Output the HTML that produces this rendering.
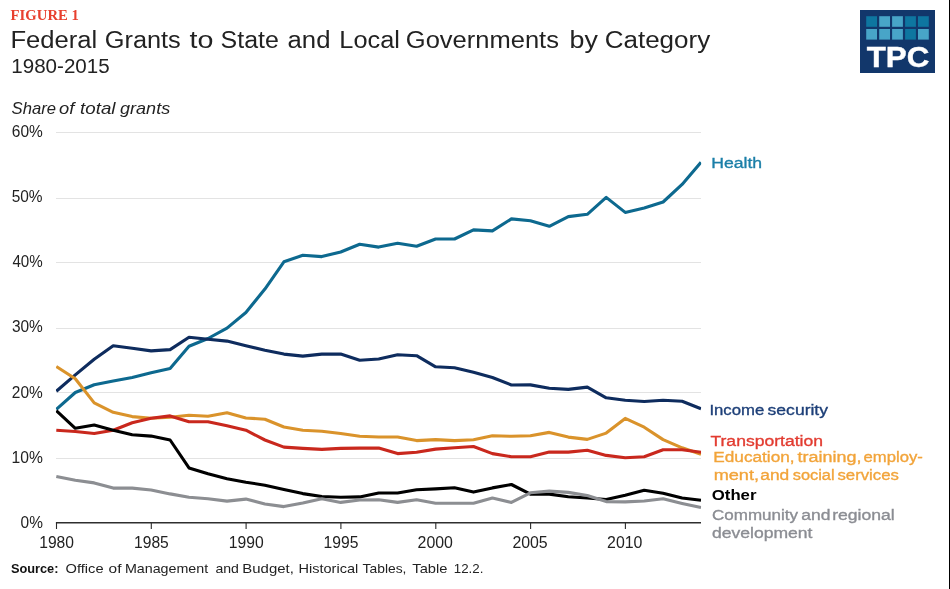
<!DOCTYPE html>
<html><head><meta charset="utf-8"><title>Figure 1</title>
<style>
html,body{margin:0;padding:0;background:#fff;}
body{width:950px;height:589px;overflow:hidden;font-family:"Liberation Sans",sans-serif;}
svg{display:block;will-change:transform;}
text{font-family:"Liberation Sans",sans-serif;}
.serif{font-family:"Liberation Serif",serif;}
</style></head><body>
<svg width="950" height="589" viewBox="0 0 950 589">
<rect x="0" y="0" width="950" height="589" fill="#ffffff"/>
<rect x="949" y="0" width="1" height="589" fill="#000"/>
<rect x="860" y="10" width="75" height="63" fill="#12376b"/>
<rect x="866.2" y="16.2" width="10.8" height="10.6" fill="#0e76a0"/>
<rect x="879.2" y="16.2" width="10.8" height="10.6" fill="#48a5c8"/>
<rect x="892.1" y="16.2" width="10.8" height="10.6" fill="#48a5c8"/>
<rect x="905.1" y="16.2" width="10.8" height="10.6" fill="#0e76a0"/>
<rect x="918.0" y="16.2" width="10.8" height="10.6" fill="#0e76a0"/>
<rect x="866.2" y="29.0" width="10.8" height="10.6" fill="#48a5c8"/>
<rect x="879.2" y="29.0" width="10.8" height="10.6" fill="#48a5c8"/>
<rect x="892.1" y="29.0" width="10.8" height="10.6" fill="#48a5c8"/>
<rect x="905.1" y="29.0" width="10.8" height="10.6" fill="#0e76a0"/>
<rect x="918.0" y="29.0" width="10.8" height="10.6" fill="#48a5c8"/>
<line x1="56" x2="701" y1="132.5" y2="132.5" stroke="#e3e3e3" stroke-width="1"/>
<line x1="56" x2="701" y1="198.5" y2="198.5" stroke="#e3e3e3" stroke-width="1"/>
<line x1="56" x2="701" y1="262.5" y2="262.5" stroke="#e3e3e3" stroke-width="1"/>
<line x1="56" x2="701" y1="328.5" y2="328.5" stroke="#e3e3e3" stroke-width="1"/>
<line x1="56" x2="701" y1="392.5" y2="392.5" stroke="#e3e3e3" stroke-width="1"/>
<line x1="56" x2="701" y1="458.5" y2="458.5" stroke="#e3e3e3" stroke-width="1"/>
<clipPath id="plot"><rect x="55.9" y="120" width="645.3" height="410"/></clipPath>
<g clip-path="url(#plot)">
<polyline points="56.3,409.4 75.3,392.5 94.2,384.7 113.2,381.1 132.2,377.5 151.1,372.7 170.1,368.4 189.0,346.3 208.0,338.5 227.0,328.1 245.9,312.5 264.9,289.1 283.9,261.8 302.8,255.3 321.8,256.6 340.7,252.0 359.7,244.2 378.7,247.1 397.6,243.2 416.6,246.2 435.6,239.0 454.5,239.0 473.5,229.9 492.4,230.9 511.4,218.9 530.4,220.8 549.3,226.3 568.3,216.6 587.3,214.3 606.2,197.4 625.2,212.4 644.2,208.1 663.1,202.0 682.1,184.4 701.0,162.3" fill="none" stroke="#0d698f" stroke-width="3.1" stroke-linejoin="round" stroke-linecap="butt"/>
<polyline points="56.3,391.2 75.3,374.9 94.2,359.3 113.2,345.7 132.2,348.3 151.1,350.9 170.1,349.6 189.0,337.2 208.0,339.2 227.0,341.1 245.9,345.7 264.9,350.2 283.9,354.1 302.8,356.1 321.8,354.1 340.7,354.1 359.7,360.2 378.7,359.0 397.6,354.8 416.6,355.7 435.6,366.8 454.5,367.8 473.5,372.3 492.4,377.5 511.4,385.0 530.4,384.9 549.3,388.3 568.3,389.4 587.3,387.1 606.2,397.8 625.2,400.3 644.2,401.5 663.1,400.3 682.1,401.2 701.0,408.7" fill="none" stroke="#0e2c5e" stroke-width="3.1" stroke-linejoin="round" stroke-linecap="butt"/>
<polyline points="56.3,366.5 75.3,378.8 94.2,402.9 113.2,412.3 132.2,416.6 151.1,418.2 170.1,417.2 189.0,415.3 208.0,416.2 227.0,412.8 245.9,418.0 264.9,419.2 283.9,427.0 302.8,430.2 321.8,431.2 340.7,433.5 359.7,436.3 378.7,437.0 397.6,437.0 416.6,440.6 435.6,439.6 454.5,440.6 473.5,439.7 492.4,435.8 511.4,436.3 530.4,435.7 549.3,432.4 568.3,437.1 587.3,439.4 606.2,433.1 625.2,418.4 644.2,427.2 663.1,439.6 682.1,447.8 701.0,454.3" fill="none" stroke="#da932b" stroke-width="3.1" stroke-linejoin="round" stroke-linecap="butt"/>
<polyline points="56.3,430.2 75.3,431.5 94.2,433.5 113.2,430.2 132.2,422.7 151.1,418.2 170.1,415.9 189.0,421.8 208.0,421.8 227.0,425.7 245.9,430.2 264.9,440.0 283.9,447.1 302.8,448.4 321.8,449.4 340.7,448.4 359.7,448.1 378.7,448.0 397.6,453.6 416.6,452.3 435.6,449.1 454.5,447.8 473.5,446.5 492.4,453.6 511.4,456.7 530.4,456.7 549.3,452.1 568.3,452.1 587.3,450.2 606.2,455.4 625.2,457.7 644.2,456.7 663.1,449.7 682.1,449.7 701.0,452.3" fill="none" stroke="#c9281d" stroke-width="3.1" stroke-linejoin="round" stroke-linecap="butt"/>
<polyline points="56.3,410.7 75.3,428.3 94.2,425.0 113.2,430.2 132.2,434.8 151.1,436.1 170.1,440.0 189.0,467.9 208.0,473.8 227.0,478.7 245.9,482.2 264.9,485.2 283.9,489.4 302.8,493.6 321.8,496.5 340.7,497.2 359.7,496.9 378.7,493.0 397.6,493.0 416.6,489.8 435.6,488.9 454.5,487.8 473.5,492.1 492.4,487.9 511.4,484.5 530.4,494.1 549.3,494.1 568.3,496.7 587.3,498.0 606.2,499.5 625.2,495.2 644.2,490.2 663.1,493.3 682.1,498.0 701.0,500.2" fill="none" stroke="#000000" stroke-width="3.1" stroke-linejoin="round" stroke-linecap="butt"/>
<polyline points="56.3,476.4 75.3,480.3 94.2,482.9 113.2,488.1 132.2,488.1 151.1,490.0 170.1,493.9 189.0,497.2 208.0,498.7 227.0,501.1 245.9,499.1 264.9,504.0 283.9,506.6 302.8,503.0 321.8,498.8 340.7,502.4 359.7,500.0 378.7,499.8 397.6,502.4 416.6,499.8 435.6,503.2 454.5,503.2 473.5,503.2 492.4,498.0 511.4,502.4 530.4,492.8 549.3,491.1 568.3,492.4 587.3,495.5 606.2,501.6 625.2,501.9 644.2,501.0 663.1,498.8 682.1,503.4 701.0,507.6" fill="none" stroke="#8c8e92" stroke-width="3.1" stroke-linejoin="round" stroke-linecap="butt"/>
</g>
<line x1="55.9" x2="701" y1="522.75" y2="522.75" stroke="#2e2e2e" stroke-width="1.4"/>
<line x1="56.5" x2="56.5" y1="522.8" y2="529" stroke="#2a2a2a" stroke-width="1.1"/>
<line x1="151.3" x2="151.3" y1="522.8" y2="529" stroke="#2a2a2a" stroke-width="1.1"/>
<line x1="246.1" x2="246.1" y1="522.8" y2="529" stroke="#2a2a2a" stroke-width="1.1"/>
<line x1="340.9" x2="340.9" y1="522.8" y2="529" stroke="#2a2a2a" stroke-width="1.1"/>
<line x1="435.8" x2="435.8" y1="522.8" y2="529" stroke="#2a2a2a" stroke-width="1.1"/>
<line x1="530.6" x2="530.6" y1="522.8" y2="529" stroke="#2a2a2a" stroke-width="1.1"/>
<line x1="625.4" x2="625.4" y1="522.8" y2="529" stroke="#2a2a2a" stroke-width="1.1"/>
<text class="serif" x="10.64" y="20.4" font-size="14.5" font-weight="700" fill="#e8402f" textLength="68.22" lengthAdjust="spacingAndGlyphs">FIGURE 1</text>
<text x="10.40" y="47.8" font-size="24.7" font-weight="400" fill="#222222" textLength="86.86" lengthAdjust="spacingAndGlyphs">Federal</text>
<text x="104.76" y="47.8" font-size="24.7" font-weight="400" fill="#222222" textLength="76.05" lengthAdjust="spacingAndGlyphs">Grants</text>
<text x="189.50" y="47.8" font-size="24.7" font-weight="400" fill="#222222" textLength="23.89" lengthAdjust="spacingAndGlyphs">to</text>
<text x="220.55" y="47.8" font-size="24.7" font-weight="400" fill="#222222" textLength="58.30" lengthAdjust="spacingAndGlyphs">State</text>
<text x="287.57" y="47.8" font-size="24.7" font-weight="400" fill="#222222" textLength="42.90" lengthAdjust="spacingAndGlyphs">and</text>
<text x="339.35" y="47.8" font-size="24.7" font-weight="400" fill="#222222" textLength="60.57" lengthAdjust="spacingAndGlyphs">Local</text>
<text x="405.87" y="47.8" font-size="24.7" font-weight="400" fill="#222222" textLength="153.06" lengthAdjust="spacingAndGlyphs">Governments</text>
<text x="569.63" y="47.8" font-size="24.7" font-weight="400" fill="#222222" textLength="28.29" lengthAdjust="spacingAndGlyphs">by</text>
<text x="604.74" y="47.8" font-size="24.7" font-weight="400" fill="#222222" textLength="105.44" lengthAdjust="spacingAndGlyphs">Category</text>
<text x="11.30" y="72.6" font-size="20" font-weight="400" fill="#222222" textLength="98.33" lengthAdjust="spacingAndGlyphs">1980-2015</text>
<text x="11.55" y="114.1" font-size="17" font-weight="400" font-style="italic" fill="#222" textLength="44.41" lengthAdjust="spacingAndGlyphs">Share</text>
<text x="58.95" y="114.1" font-size="17" font-weight="400" font-style="italic" fill="#222" textLength="15.30" lengthAdjust="spacingAndGlyphs">of</text>
<text x="80.07" y="114.1" font-size="17" font-weight="400" font-style="italic" fill="#222" textLength="35.40" lengthAdjust="spacingAndGlyphs">total</text>
<text x="120.05" y="114.1" font-size="17" font-weight="400" font-style="italic" fill="#222" textLength="50.11" lengthAdjust="spacingAndGlyphs">grants</text>
<text x="20.58" y="527.8" font-size="16" font-weight="400" fill="#222" textLength="22.28" lengthAdjust="spacingAndGlyphs">0%</text>
<text x="11.52" y="462.7" font-size="16" font-weight="400" fill="#222" textLength="31.31" lengthAdjust="spacingAndGlyphs">10%</text>
<text x="11.80" y="397.6" font-size="16" font-weight="400" fill="#222" textLength="30.94" lengthAdjust="spacingAndGlyphs">20%</text>
<text x="11.88" y="332.4" font-size="16" font-weight="400" fill="#222" textLength="30.92" lengthAdjust="spacingAndGlyphs">30%</text>
<text x="12.41" y="267.3" font-size="16" font-weight="400" fill="#222" textLength="30.30" lengthAdjust="spacingAndGlyphs">40%</text>
<text x="11.66" y="202.2" font-size="16" font-weight="400" fill="#222" textLength="30.92" lengthAdjust="spacingAndGlyphs">50%</text>
<text x="11.87" y="137.1" font-size="16" font-weight="400" fill="#222" textLength="31.00" lengthAdjust="spacingAndGlyphs">60%</text>
<text x="39.25" y="547.6" font-size="16" font-weight="400" fill="#222" textLength="34.71" lengthAdjust="spacingAndGlyphs">1980</text>
<text x="134.00" y="547.6" font-size="16" font-weight="400" fill="#222" textLength="34.77" lengthAdjust="spacingAndGlyphs">1985</text>
<text x="228.84" y="547.6" font-size="16" font-weight="400" fill="#222" textLength="34.85" lengthAdjust="spacingAndGlyphs">1990</text>
<text x="323.55" y="547.6" font-size="16" font-weight="400" fill="#222" textLength="34.84" lengthAdjust="spacingAndGlyphs">1995</text>
<text x="417.59" y="547.6" font-size="16" font-weight="400" fill="#222" textLength="35.33" lengthAdjust="spacingAndGlyphs">2000</text>
<text x="512.38" y="547.6" font-size="16" font-weight="400" fill="#222" textLength="35.33" lengthAdjust="spacingAndGlyphs">2005</text>
<text x="607.12" y="547.6" font-size="16" font-weight="400" fill="#222" textLength="35.33" lengthAdjust="spacingAndGlyphs">2010</text>
<text x="711.25" y="167.6" font-size="15.5" font-weight="400" fill="#1b7fa8" stroke="#1b7fa8" stroke-width="0.35" textLength="50.89" lengthAdjust="spacingAndGlyphs">Health</text>
<text x="709.45" y="414.6" font-size="15.5" font-weight="400" fill="#1d3f78" stroke="#1d3f78" stroke-width="0.35" textLength="54.80" lengthAdjust="spacingAndGlyphs">Income</text>
<text x="767.60" y="414.6" font-size="15.5" font-weight="400" fill="#1d3f78" stroke="#1d3f78" stroke-width="0.35" textLength="60.41" lengthAdjust="spacingAndGlyphs">security</text>
<text x="710.44" y="445.5" font-size="15.5" font-weight="400" fill="#e23b30" stroke="#e23b30" stroke-width="0.35" textLength="112.61" lengthAdjust="spacingAndGlyphs">Transportation</text>
<text x="713.29" y="461.9" font-size="15.5" font-weight="400" fill="#f2a43a" stroke="#f2a43a" stroke-width="0.35" textLength="81.33" lengthAdjust="spacingAndGlyphs">Education,</text>
<text x="797.46" y="461.9" font-size="15.5" font-weight="400" fill="#f2a43a" stroke="#f2a43a" stroke-width="0.35" textLength="63.94" lengthAdjust="spacingAndGlyphs">training,</text>
<text x="863.59" y="461.9" font-size="15.5" font-weight="400" fill="#f2a43a" stroke="#f2a43a" stroke-width="0.35" textLength="59.27" lengthAdjust="spacingAndGlyphs">employ-</text>
<text x="713.68" y="480" font-size="15.5" font-weight="400" fill="#f2a43a" stroke="#f2a43a" stroke-width="0.35" textLength="45.33" lengthAdjust="spacingAndGlyphs">ment,</text>
<text x="760.29" y="480" font-size="15.5" font-weight="400" fill="#f2a43a" stroke="#f2a43a" stroke-width="0.35" textLength="28.97" lengthAdjust="spacingAndGlyphs">and</text>
<text x="792.70" y="480" font-size="15.5" font-weight="400" fill="#f2a43a" stroke="#f2a43a" stroke-width="0.35" textLength="41.94" lengthAdjust="spacingAndGlyphs">social</text>
<text x="837.45" y="480" font-size="15.5" font-weight="400" fill="#f2a43a" stroke="#f2a43a" stroke-width="0.35" textLength="61.49" lengthAdjust="spacingAndGlyphs">services</text>
<text x="711.75" y="500.3" font-size="15.5" font-weight="700" fill="#000" textLength="44.73" lengthAdjust="spacingAndGlyphs">Other</text>
<text x="712.05" y="519.6" font-size="15.5" font-weight="400" fill="#8b8d93" stroke="#8b8d93" stroke-width="0.35" textLength="85.97" lengthAdjust="spacingAndGlyphs">Community</text>
<text x="801.21" y="519.6" font-size="15.5" font-weight="400" fill="#8b8d93" stroke="#8b8d93" stroke-width="0.35" textLength="29.24" lengthAdjust="spacingAndGlyphs">and</text>
<text x="832.20" y="519.6" font-size="15.5" font-weight="400" fill="#8b8d93" stroke="#8b8d93" stroke-width="0.35" textLength="62.57" lengthAdjust="spacingAndGlyphs">regional</text>
<text x="711.99" y="537.8" font-size="15.5" font-weight="400" fill="#8b8d93" stroke="#8b8d93" stroke-width="0.35" textLength="100.44" lengthAdjust="spacingAndGlyphs">development</text>
<text x="10.91" y="572.5" font-size="13" font-weight="700" fill="#111" textLength="47.54" lengthAdjust="spacingAndGlyphs">Source:</text>
<text x="65.58" y="572.5" font-size="13.2" font-weight="400" fill="#222" textLength="37.95" lengthAdjust="spacingAndGlyphs">Office</text>
<text x="108.63" y="572.5" font-size="13.2" font-weight="400" fill="#222" textLength="12.87" lengthAdjust="spacingAndGlyphs">of</text>
<text x="124.92" y="572.5" font-size="13.2" font-weight="400" fill="#222" textLength="83.29" lengthAdjust="spacingAndGlyphs">Management</text>
<text x="215.46" y="572.5" font-size="13.2" font-weight="400" fill="#222" textLength="23.49" lengthAdjust="spacingAndGlyphs">and</text>
<text x="242.38" y="572.5" font-size="13.2" font-weight="400" fill="#222" textLength="51.43" lengthAdjust="spacingAndGlyphs">Budget,</text>
<text x="298.57" y="572.5" font-size="13.2" font-weight="400" fill="#222" textLength="59.63" lengthAdjust="spacingAndGlyphs">Historical</text>
<text x="362.62" y="572.5" font-size="13.2" font-weight="400" fill="#222" textLength="43.83" lengthAdjust="spacingAndGlyphs">Tables,</text>
<text x="412.37" y="572.5" font-size="13.2" font-weight="400" fill="#222" textLength="35.07" lengthAdjust="spacingAndGlyphs">Table</text>
<text x="453.81" y="572.5" font-size="13.2" font-weight="400" fill="#222" textLength="29.60" lengthAdjust="spacingAndGlyphs">12.2.</text>
<text x="866.74" y="67.2" font-size="29.8" font-weight="700" fill="#ffffff" stroke="#ffffff" stroke-width="0.4" textLength="62.66" lengthAdjust="spacingAndGlyphs">TPC</text>
</svg></body></html>
